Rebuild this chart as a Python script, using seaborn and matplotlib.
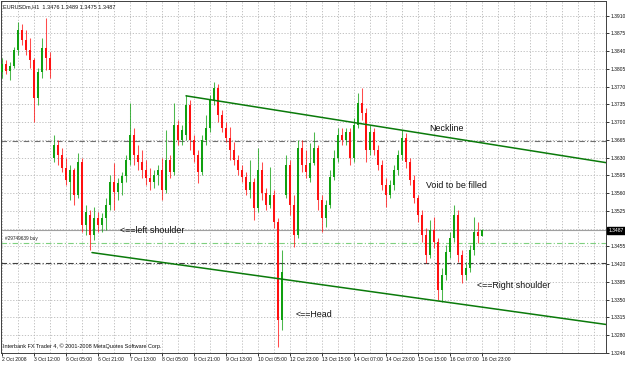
import matplotlib
matplotlib.use("Agg")
import matplotlib.pyplot as plt
import seaborn as sns
import pandas as pd

# ---------------- data (EURUSDm, H1) ----------------
opens = [1.3799, 1.3815, 1.3801, 1.3811, 1.3842, 1.3882, 1.3862, 1.3842, 1.3823, 1.3748,
         1.3799, 1.3846, 1.3827, 1.3630, 1.3655, 1.3636, 1.3610, 1.3582, 1.3606, 1.3557,
         1.3622, 1.3498, 1.3517, 1.3478, 1.3511, 1.3498, 1.3511, 1.3537, 1.3582, 1.3563,
         1.3580, 1.3594, 1.3626, 1.3675, 1.3636, 1.3622, 1.3606, 1.3590, 1.3582, 1.3596,
         1.3606, 1.3567, 1.3626, 1.3602, 1.3695, 1.3665, 1.3675, 1.3734, 1.3665, 1.3636,
         1.3602, 1.3665, 1.3689, 1.3744, 1.3768, 1.3714, 1.3689, 1.3669, 1.3645, 1.3626,
         1.3606, 1.3592, 1.3567, 1.3582, 1.3531, 1.3606, 1.3561, 1.3537, 1.3557, 1.3504,
         1.3311, 1.3557, 1.3616, 1.3537, 1.3478, 1.3649, 1.3616, 1.3590, 1.3620, 1.3649,
         1.3547, 1.3511, 1.3537, 1.3592, 1.3630, 1.3675, 1.3665, 1.3681, 1.3630, 1.3695,
         1.3738, 1.3718, 1.3645, 1.3681, 1.3645, 1.3616, 1.3576, 1.3557, 1.3576, 1.3606,
         1.3636, 1.3669, 1.3622, 1.3586, 1.3551, 1.3517, 1.3478, 1.3439, 1.3488, 1.3464,
         1.3370, 1.3399, 1.3444, 1.3472, 1.3517, 1.3439, 1.3399, 1.3413, 1.3448, 1.3484,
         1.3476]
highs = [1.3827, 1.3823, 1.3819, 1.3848, 1.3898, 1.3894, 1.3882, 1.3866, 1.3827, 1.3807,
         1.3866, 1.3905, 1.3838, 1.3675, 1.3665, 1.3649, 1.3630, 1.3616, 1.3610, 1.3640,
         1.3630, 1.3537, 1.3527, 1.3533, 1.3523, 1.3521, 1.3551, 1.3596, 1.3620, 1.3590,
         1.3602, 1.3636, 1.3738, 1.3689, 1.3655, 1.3645, 1.3626, 1.3610, 1.3606, 1.3616,
         1.3630, 1.3685, 1.3636, 1.3738, 1.3705, 1.3695, 1.3754, 1.3744, 1.3675, 1.3645,
         1.3675, 1.3714, 1.3754, 1.3779, 1.3775, 1.3724, 1.3701, 1.3691, 1.3661, 1.3636,
         1.3616, 1.3602, 1.3626, 1.3590, 1.3649, 1.3622, 1.3571, 1.3612, 1.3567, 1.3511,
         1.3448, 1.3636, 1.3626, 1.3557, 1.3665, 1.3665, 1.3645, 1.3659, 1.3681, 1.3655,
         1.3557, 1.3547, 1.3606, 1.3645, 1.3689, 1.3689, 1.3689, 1.3689, 1.3708, 1.3758,
         1.3768, 1.3728, 1.3695, 1.3689, 1.3655, 1.3626, 1.3590, 1.3586, 1.3616, 1.3645,
         1.3685, 1.3679, 1.3630, 1.3596, 1.3557, 1.3527, 1.3492, 1.3508, 1.3513, 1.3472,
         1.3413, 1.3458, 1.3484, 1.3537, 1.3527, 1.3448, 1.3425, 1.3458, 1.3513, 1.3504,
         1.3489]
lows = [1.3787, 1.3795, 1.3783, 1.3807, 1.3833, 1.3852, 1.3833, 1.3807, 1.3701, 1.3734,
        1.3787, 1.3803, 1.3787, 1.3622, 1.3616, 1.3602, 1.3576, 1.3547, 1.3537, 1.3551,
        1.3484, 1.3478, 1.3448, 1.3468, 1.3484, 1.3484, 1.3488, 1.3527, 1.3527, 1.3547,
        1.3557, 1.3582, 1.3616, 1.3616, 1.3606, 1.3590, 1.3576, 1.3567, 1.3571, 1.3576,
        1.3547, 1.3561, 1.3590, 1.3596, 1.3655, 1.3655, 1.3665, 1.3645, 1.3622, 1.3580,
        1.3596, 1.3655, 1.3681, 1.3734, 1.3701, 1.3681, 1.3661, 1.3626, 1.3616, 1.3596,
        1.3582, 1.3557, 1.3551, 1.3508, 1.3523, 1.3547, 1.3527, 1.3531, 1.3492, 1.3257,
        1.3291, 1.3551, 1.3517, 1.3454, 1.3472, 1.3602, 1.3590, 1.3582, 1.3616, 1.3527,
        1.3484, 1.3494, 1.3531, 1.3586, 1.3622, 1.3655, 1.3655, 1.3616, 1.3622, 1.3689,
        1.3705, 1.3622, 1.3636, 1.3636, 1.3606, 1.3567, 1.3533, 1.3551, 1.3567, 1.3596,
        1.3626, 1.3610, 1.3576, 1.3541, 1.3504, 1.3464, 1.3423, 1.3433, 1.3452, 1.3350,
        1.3346, 1.3389, 1.3433, 1.3464, 1.3425, 1.3383, 1.3389, 1.3405, 1.3439, 1.3462,
        1.3475]
closes = [1.3815, 1.3801, 1.3811, 1.3842, 1.3882, 1.3862, 1.3842, 1.3823, 1.3748, 1.3799,
          1.3846, 1.3827, 1.3803, 1.3655, 1.3636, 1.3610, 1.3586, 1.3606, 1.3557, 1.3622,
          1.3498, 1.3523, 1.3478, 1.3511, 1.3498, 1.3511, 1.3537, 1.3582, 1.3563, 1.3580,
          1.3594, 1.3626, 1.3675, 1.3636, 1.3622, 1.3606, 1.3590, 1.3582, 1.3596, 1.3606,
          1.3567, 1.3626, 1.3602, 1.3695, 1.3665, 1.3685, 1.3734, 1.3665, 1.3636, 1.3602,
          1.3665, 1.3689, 1.3744, 1.3768, 1.3714, 1.3689, 1.3669, 1.3645, 1.3626, 1.3606,
          1.3592, 1.3567, 1.3582, 1.3531, 1.3606, 1.3561, 1.3537, 1.3557, 1.3504, 1.3311,
          1.3405, 1.3616, 1.3537, 1.3478, 1.3649, 1.3616, 1.3602, 1.3620, 1.3649, 1.3547,
          1.3511, 1.3537, 1.3592, 1.3630, 1.3675, 1.3665, 1.3681, 1.3630, 1.3695, 1.3738,
          1.3718, 1.3645, 1.3681, 1.3645, 1.3616, 1.3576, 1.3557, 1.3576, 1.3606, 1.3636,
          1.3669, 1.3622, 1.3586, 1.3551, 1.3517, 1.3478, 1.3439, 1.3488, 1.3464, 1.3370,
          1.3399, 1.3444, 1.3472, 1.3517, 1.3439, 1.3399, 1.3413, 1.3448, 1.3484, 1.3476,
          1.3487]

x_tick_labels = ["2 Oct 2008", "3 Oct 12:00", "6 Oct 05:00", "6 Oct 21:00", "7 Oct 13:00",
                 "8 Oct 05:00", "8 Oct 21:00", "9 Oct 13:00", "10 Oct 05:00", "12 Oct 23:00",
                 "13 Oct 15:00", "14 Oct 07:00", "14 Oct 23:00", "15 Oct 15:00",
                 "16 Oct 07:00", "16 Oct 23:00"]
y_tick_values = [1.3910, 1.3875, 1.3840, 1.3805, 1.3770, 1.3735, 1.3700, 1.3665, 1.3630,
                 1.3595, 1.3560, 1.3525, 1.3490, 1.3455, 1.3420, 1.3385, 1.3350, 1.3315,
                 1.3280, 1.3245]
y_tick_labels = ["1.3910", "1.3875", "1.3840", "1.3805", "1.3770", "1.3735", "1.3700",
                 "1.3665", "1.3630", "1.3595", "1.3560", "1.3525", "", "1.3455", "1.3420",
                 "1.3385", "1.3350", "1.3315", "1.3280", "1.3246"]

bid_price = 1.3487
order_price = 1.3462
level_upper = 1.3663
level_lower = 1.3423
neck_x = [46, 151.25]
neck_y = [1.3752, 1.3620]
support_x = [22.5, 151.25]
support_y = [1.3443, 1.3301]

# ---------------- figure ----------------
sns.set_theme(style="white")
plt.rcParams["font.family"] = ["Liberation Sans", "DejaVu Sans"]

W, H = 625, 365
fig = plt.figure(figsize=(W / 100, H / 100), dpi=100)
fig.patch.set_facecolor("white")
ax_l, ax_r, ax_t, ax_b = 1, 606, 1, 353
ax = fig.add_axes([ax_l / W, (H - ax_b) / H, (ax_r - ax_l) / W, (ax_b - ax_t) / H])
ax.set_facecolor("white")

def p_of(ypix):
    return 1.394093 - 0.000197 * ypix

ax.set_ylim(p_of(ax_b), p_of(ax_t))
ax.set_xlim((ax_l - 2) / 4, (ax_r - 2) / 4)

df = pd.DataFrame({"open": opens, "high": highs, "low": lows, "close": closes})
df["i"] = range(len(df))
df["bull"] = df["close"] >= df["open"]

# grid
grid_kw = dict(color="#b8b8b8", lw=0.6, linestyle=(0, (1.5, 2)), zorder=0)
for v in y_tick_values:
    ax.axhline(v, **grid_kw)
for gx in range(0, 152, 4):
    ax.axvline(gx, **grid_kw)

# level lines
ax.axhline(level_upper, color="#707070", lw=0.8, linestyle=(0, (5, 2, 1, 2)), zorder=1)
ax.axhline(bid_price, color="#a0a0a0", lw=0.8, zorder=1)
ax.axhline(order_price, color="#7fd07f", lw=0.8, linestyle=(0, (5, 2, 1, 2)), zorder=1)
ax.axhline(level_lower, color="#404040", lw=0.8, linestyle=(0, (5, 2, 1, 2)), zorder=1)

# candles
bull_c, bear_c = "#10a010", "#ff1010"
for _, r in df.iterrows():
    c = bull_c if r["bull"] else bear_c
    ax.vlines(r["i"], r["low"], r["high"], color=c, lw=0.75, zorder=3, alpha=0.75)
    lo, hi = min(r["open"], r["close"]), max(r["open"], r["close"])
    ax.bar(r["i"], max(hi - lo, 0.00015), bottom=lo, width=0.7, color=c,
           edgecolor="none", zorder=4)

# trendlines
tl = pd.DataFrame({"x": neck_x + support_x, "y": neck_y + support_y,
                   "line": ["neck"] * 2 + ["support"] * 2})
sns.lineplot(data=tl, x="x", y="y", units="line", estimator=None, color="#0a7a0a",
             lw=1.1, ax=ax, zorder=5, legend=False)

# annotations
ann_kw = dict(fontsize=6.4, color="#111111", va="center", ha="left", zorder=6)
ax.text(29.5, 1.3486, "<==left shoulder", **ann_kw)
ax.text(73.5, 1.3320, "<==Head", **ann_kw)
ax.text(106.75, 1.3687, "Neckline", **ann_kw)
ax.text(106.0, 1.3575, "Void to be filled", **ann_kw)
ax.text(118.75, 1.3378, "<==Right shoulder", **ann_kw)
ax.text(0.8, order_price + 0.0004, "#29749639 buy", fontsize=3.4, color="#202020",
        va="bottom", ha="left", zorder=6)

ax.text(0.004, 0.99, "EURUSDm,H1  1.3476 1.3489 1.3475 1.3487", transform=ax.transAxes,
        fontsize=4.0, va="top", ha="left", color="#111111")
ax.text(0.004, 0.012, "Interbank FX Trader 4, \u00a9 2001-2008 MetaQuotes Software Corp.",
        transform=ax.transAxes, fontsize=4.0, va="bottom", ha="left", color="#111111")

# axes & ticks
ax.set_xlabel("")
ax.set_ylabel("")
ax.yaxis.tick_right()
ax.set_yticks(y_tick_values)
ax.set_yticklabels(y_tick_labels)
ax.set_xticks(list(range(0, 8 * len(x_tick_labels), 8)))
ax.set_xticklabels(x_tick_labels)
ax.tick_params(axis="y", which="both", right=True, left=False, length=2, width=0.6,
               pad=1, labelsize=3.6, colors="#111111")
ax.tick_params(axis="x", which="both", bottom=True, length=2, width=0.6, pad=1,
               labelsize=3.6, colors="#111111")
for lbl in ax.get_xticklabels():
    lbl.set_horizontalalignment("left")
for s in ax.spines.values():
    s.set_color("#404040")
    s.set_linewidth(0.7)

# current price box
ax.text(1.004, bid_price, "1.3487", transform=ax.get_yaxis_transform(), fontsize=3.6,
        color="white", va="center", ha="left",
        bbox=dict(boxstyle="square,pad=0.2", facecolor="black", edgecolor="black"))

fig.savefig("out.png", dpi=100, facecolor="white")
